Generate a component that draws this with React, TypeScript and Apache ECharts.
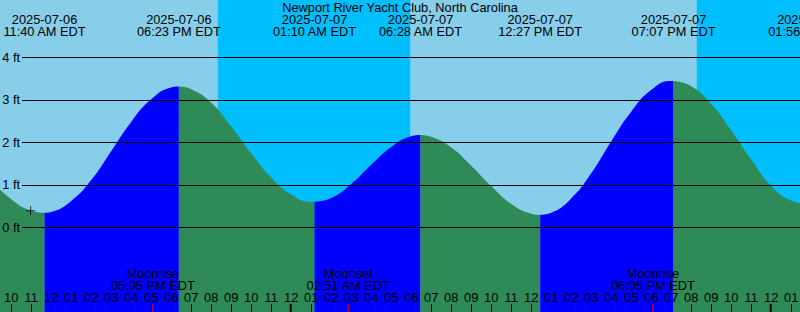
import React, { useEffect, useRef } from 'react';
import * as echarts from 'echarts';

const TITLE = 'Newport River Yacht Club, North Carolina';

// hours since 2025-07-06 10:00 AM EDT
const tideHours = [-1, 0, 1, 1.667, 2, 3, 4, 5, 6, 7, 8, 8.383, 9, 10, 11, 12, 13, 14, 15, 15.167, 16, 17, 18, 19, 20, 20.467, 21, 22, 23, 24, 25, 26, 26.45, 27, 28, 29, 30, 31, 32, 33, 33.117, 34, 35, 36, 37, 38, 39, 40];
const tideFeet = [1.09, 0.66, 0.39, 0.34, 0.36, 0.62, 1.11, 1.79, 2.48, 3.01, 3.29, 3.31, 3.25, 2.93, 2.37, 1.74, 1.17, 0.77, 0.6, 0.6, 0.69, 1.02, 1.47, 1.89, 2.14, 2.17, 2.13, 1.88, 1.45, 0.97, 0.55, 0.32, 0.29, 0.34, 0.68, 1.27, 2.02, 2.72, 3.23, 3.44, 3.44, 3.32, 2.9, 2.28, 1.6, 0.97, 0.63, 0.52];

const turnHours = [1.667, 8.383, 15.167, 20.467, 26.45, 33.117, 39.933];
const turnDates = ['2025-07-06', '2025-07-06', '2025-07-07', '2025-07-07', '2025-07-07', '2025-07-07', '2025-07-08'];
const turnTimes = ['11:40 AM EDT', '06:23 PM EDT', '01:10 AM EDT', '06:28 AM EDT', '12:27 PM EDT', '07:07 PM EDT', '01:56 AM EDT'];

const sunsetHours = [10.33, 34.28];
const sunriseHours = [19.95, 43.97];

const moonHours = [7.083, 16.85, 32.083];
const moonEvents = ['Moonrise', 'Moonset', 'Moonrise'];
const moonTimes = ['05:05 PM EDT', '02:51 AM EDT', '06:05 PM EDT'];

const hourLabels = [
  '10', '11', '12', '01', '02', '03', '04', '05', '06', '07', '08', '09', '10', '11',
  '12', '01', '02', '03', '04', '05', '06', '07', '08', '09', '10', '11',
  '12', '01', '02', '03', '04', '05', '06', '07', '08', '09', '10', '11',
  '12', '01',
];
const midnightHours = [14, 38];

const nowHour = [0.97];
const nowFeet = [0.39];

const footMin = 0;
const footMax = 4;

const XMIN = -0.56;
const XMAX = 39.44;
const YMIN = -1.993;
const YMAX = 5.348;

const FONT = '"Liberation Sans", Arial, sans-serif';
const FS = 12.8;
const FONTSTR = `${FS}px ${FONT}`;

const RISE = '#0000FF';
const FALL = '#2E8B57';
const DAY = '#87CEEB';
const NIGHT = '#00BFFF';

export default function App() {
  const ref = useRef<HTMLDivElement>(null);

  useEffect(() => {
    const chart = echarts.init(ref.current as HTMLDivElement, null, { renderer: 'svg' });

    const segments: number[][][] = [];
    let cur: number[][] = [];
    tideHours.forEach((h, i) => {
      cur.push([h, tideFeet[i]]);
      if (turnHours.includes(h) && cur.length > 1) {
        segments.push(cur);
        cur = [[h, tideFeet[i]]];
      }
    });
    if (cur.length > 1) segments.push(cur);

    const tideSeries = segments.map((seg) => {
      const rising = seg[seg.length - 1][1] > seg[0][1];
      return {
        type: 'line',
        xAxisIndex: 0,
        yAxisIndex: 0,
        data: seg,
        smooth: 0.5,
        showSymbol: false,
        symbol: 'none',
        silent: true,
        z: 2,
        lineStyle: { width: 0, opacity: 0 },
        areaStyle: { color: rising ? RISE : FALL, opacity: 1, origin: 'start' },
      };
    });

    const allHours = hourLabels.map((_, i) => i);
    const tickHours = allHours.filter((h) => !midnightHours.includes(h));

    const option: any = {
      animation: false,
      title: {
        text: TITLE,
        left: 'center',
        top: 1,
        padding: 0,
        textStyle: { fontSize: FS, fontWeight: 'normal', color: '#000', fontFamily: FONT, lineHeight: 12 },
      },
      grid: [
        { left: 0, right: 0, top: 0, bottom: 0, show: true, backgroundColor: DAY, borderWidth: 0, containLabel: false, outerBoundsMode: 'none' },
        { left: 22, right: 0, top: 57.3, height: 170, show: false, containLabel: false, outerBoundsMode: 'none' },
      ],
      xAxis: [
        {
          gridIndex: 0,
          type: 'value',
          min: XMIN,
          max: XMAX,
          position: 'bottom',
          z: 8,
          axisLine: { show: false, onZero: false },
          splitLine: { show: false },
          axisTick: { show: true, inside: true, length: 8, customValues: tickHours, lineStyle: { color: '#000', width: 1 } },
          axisLabel: {
            show: true,
            inside: true,
            customValues: allHours,
            interval: 0,
            margin: 14.2,
            verticalAlign: 'middle',
            color: '#000',
            fontFamily: FONT,
            fontSize: FS,
            formatter: (v: number) => hourLabels[Math.round(v)] ?? '',
          },
        },
        { gridIndex: 1, type: 'value', min: 0, max: 1, show: false, axisLine: { onZero: false } },
      ],
      yAxis: [
        { gridIndex: 0, type: 'value', min: YMIN, max: YMAX, show: false, axisLine: { onZero: false } },
        {
          gridIndex: 1,
          type: 'value',
          min: footMin,
          max: footMax,
          interval: 1,
          z: 5,
          axisLine: { show: false, onZero: false },
          axisTick: { show: false },
          splitLine: { show: true, lineStyle: { color: '#000', width: 1 } },
          axisLabel: { formatter: '{value} ft', color: '#000', fontFamily: FONT, fontSize: FS, margin: 2 },
        },
      ],
      series: [
        {
          type: 'custom',
          xAxisIndex: 0,
          yAxisIndex: 0,
          z: 1,
          silent: true,
          data: sunsetHours.map((s, i) => [s, sunriseHours[i]]),
          renderItem: (params: any, api: any) => {
            const a = api.coord([api.value(0), YMAX]);
            const b = api.coord([api.value(1), YMIN]);
            return {
              type: 'rect',
              shape: { x: a[0], y: a[1], width: b[0] - a[0], height: b[1] - a[1] },
              style: { fill: NIGHT },
            };
          },
        },
        ...tideSeries,
        {
          type: 'scatter',
          xAxisIndex: 0,
          yAxisIndex: 0,
          z: 6,
          silent: true,
          data: nowHour.map((h, i) => [h, nowFeet[i]]),
          symbol: 'path://M0,4h9v1h-9zM4,0h1v9h-1z',
          symbolSize: 9,
          itemStyle: { color: '#000' },
        },
        {
          type: 'custom',
          xAxisIndex: 0,
          yAxisIndex: 0,
          z: 10,
          silent: true,
          data: turnHours.map((h) => [h, 0]),
          renderItem: (params: any, api: any) => {
            const x = api.coord([api.value(0), 0])[0];
            const i = params.dataIndex;
            return {
              type: 'group',
              children: [
                { type: 'text', x, y: 19.5, style: { text: turnDates[i], fill: '#000', font: FONTSTR, align: 'center', verticalAlign: 'middle' } },
                { type: 'text', x, y: 31.3, style: { text: turnTimes[i], fill: '#000', font: FONTSTR, align: 'center', verticalAlign: 'middle' } },
              ],
            };
          },
        },
        {
          type: 'custom',
          xAxisIndex: 0,
          yAxisIndex: 0,
          z: 10,
          silent: true,
          data: moonHours.map((h) => [h, 0]),
          renderItem: (params: any, api: any) => {
            const x = api.coord([api.value(0), 0])[0];
            const i = params.dataIndex;
            return {
              type: 'group',
              children: [
                { type: 'text', x, y: 273.3, style: { text: moonEvents[i], fill: '#000', font: FONTSTR, align: 'center', verticalAlign: 'middle' } },
                { type: 'text', x, y: 285.2, style: { text: moonTimes[i], fill: '#000', font: FONTSTR, align: 'center', verticalAlign: 'middle' } },
                { type: 'rect', shape: { x: x - 0.5, y: 304, width: 1, height: 8 }, style: { fill: '#FF0000' } },
              ],
            };
          },
        },
        {
          type: 'custom',
          xAxisIndex: 0,
          yAxisIndex: 0,
          z: 10,
          silent: true,
          data: midnightHours.map((h) => [h, 0]),
          renderItem: (params: any, api: any) => {
            const x = api.coord([api.value(0), 0])[0];
            return { type: 'rect', shape: { x: x - 1.5, y: 304, width: 2, height: 8 }, style: { fill: '#000' } };
          },
        },
      ],
    };

    chart.setOption(option);
    return () => chart.dispose();
  }, []);

  return <div ref={ref} style={{ position: 'absolute', left: 0, top: 0, width: 800, height: 312 }} />;
}
